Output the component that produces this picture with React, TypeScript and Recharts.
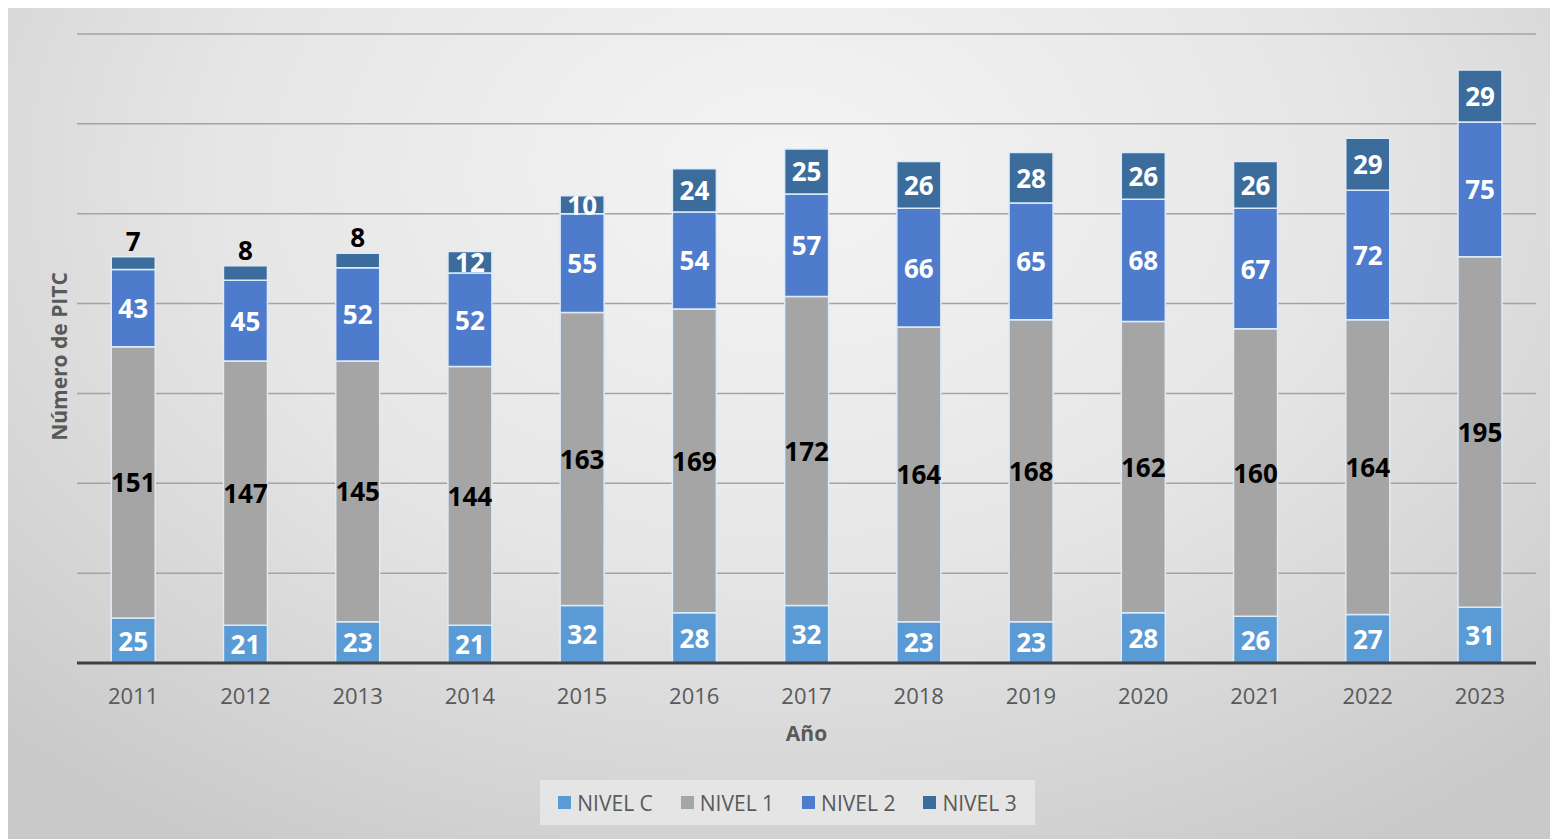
import { BarChart, Bar, XAxis, YAxis, CartesianGrid, LabelList } from "recharts";

const years = ["2011", "2012", "2013", "2014", "2015", "2016", "2017", "2018", "2019", "2020", "2021", "2022", "2023"];
const nivelC = [25, 21, 23, 21, 32, 28, 32, 23, 23, 28, 26, 27, 31];
const nivel1 = [151, 147, 145, 144, 163, 169, 172, 164, 168, 162, 160, 164, 195];
const nivel2 = [43, 45, 52, 52, 55, 54, 57, 66, 65, 68, 67, 72, 75];
const nivel3 = [7, 8, 8, 12, 10, 24, 25, 26, 28, 26, 26, 29, 29];
const yTicks = [0, 50, 100, 150, 200, 250, 300, 350];

const data = years.map((year, i) => ({
  year,
  c: nivelC[i],
  n1: nivel1[i],
  n2: nivel2[i],
  n3: nivel3[i],
}));

const series = [
  { key: "c", name: "NIVEL C", color: "#5b9bd5", text: "#ffffff" },
  { key: "n1", name: "NIVEL 1", color: "#a5a5a5", text: "#000000" },
  { key: "n2", name: "NIVEL 2", color: "#4f7bcc", text: "#ffffff" },
  { key: "n3", name: "NIVEL 3", color: "#3b6c9c", text: "#ffffff" },
];

const FONT = "'Open Sans', sans-serif";

// small NIVEL 3 values sit above the bar in black, the rest go in the middle of the segment
const makeLabel = (color: string, small: boolean) => (props: any) => {
  const { x, y, width, height, value } = props;
  const cx = Number(x) + Number(width) / 2;
  const above = small && value < 10;
  const cy = above ? Number(y) - 16 : Number(y) + Number(height) / 2;
  return (
    <text
      x={cx}
      y={cy}
      textAnchor="middle"
      dominantBaseline="central"
      fill={above ? "#000000" : color}
      fontFamily={FONT}
      fontWeight={700}
      fontSize={26}
    >
      {value}
    </text>
  );
};

export default function App() {
  return (
    <div style={{ position: "relative", width: 1558, height: 839, margin: "-8px 0 0 -8px" }}>
      <div
        style={{
          position: "absolute",
          left: 8,
          top: 5,
          width: 1550,
          height: 834,
          borderTop: "2px solid #c4c4c4",
          background: "radial-gradient(ellipse 72% 95% at 50% 20%, #f4f4f4 0%, #e6e6e6 50%, #c9c9c9 100%)",
        }}
      />
      <div style={{ position: "absolute", left: 0, top: 0 }}>
        <BarChart
          width={1558}
          height={839}
          data={data}
          margin={{ top: 34, right: 22, left: 0, bottom: 116 }}
          barCategoryGap="30.5%"
        >
          <CartesianGrid vertical={false} stroke="#a3a3a3" strokeWidth={1.5} />
          <YAxis
            width={77}
            domain={[0, 350]}
            ticks={yTicks}
            tickFormatter={() => ""}
            axisLine={false}
            tickLine={false}
            label={{
              value: "Número de PITC",
              angle: -90,
              position: "center",
              dx: 21,
              dy: 8,
              style: { fontFamily: FONT, fontWeight: 700, fontSize: 21, fill: "#595959" },
            }}
          />
          <XAxis
            dataKey="year"
            height={60}
            tickLine={false}
            tickSize={0}
            tickMargin={25}
            axisLine={{ stroke: "#404040", strokeWidth: 3 }}
            tick={{ fontFamily: FONT, fontSize: 22, fill: "#595959" }}
            label={{
              value: "Año",
              position: "bottom",
              offset: 3,
              style: { fontFamily: FONT, fontWeight: 700, fontSize: 21, fill: "#595959" },
            }}
          />
          {series.map((s) => (
            <Bar
              key={s.key}
              dataKey={s.key}
              name={s.name}
              stackId="a"
              fill={s.color}
              stroke="#dcebf8"
              strokeWidth={1.5}
              isAnimationActive={false}
            >
              <LabelList dataKey={s.key} content={makeLabel(s.text, s.key === "n3")} />
            </Bar>
          ))}
        </BarChart>
      </div>
      <div
        style={{
          position: "absolute",
          left: 540,
          top: 780,
          width: 495,
          height: 45,
          background: "#e5e5e5",
          display: "flex",
          alignItems: "center",
          justifyContent: "center",
          gap: 28,
          fontFamily: FONT,
          fontSize: 21,
          color: "#595959",
        }}
      >
        {series.map((s) => (
          <div key={s.key} style={{ display: "flex", alignItems: "center", gap: 6 }}>
            <span style={{ width: 13, height: 13, background: s.color, display: "inline-block" }} />
            <span>{s.name}</span>
          </div>
        ))}
      </div>
    </div>
  );
}
